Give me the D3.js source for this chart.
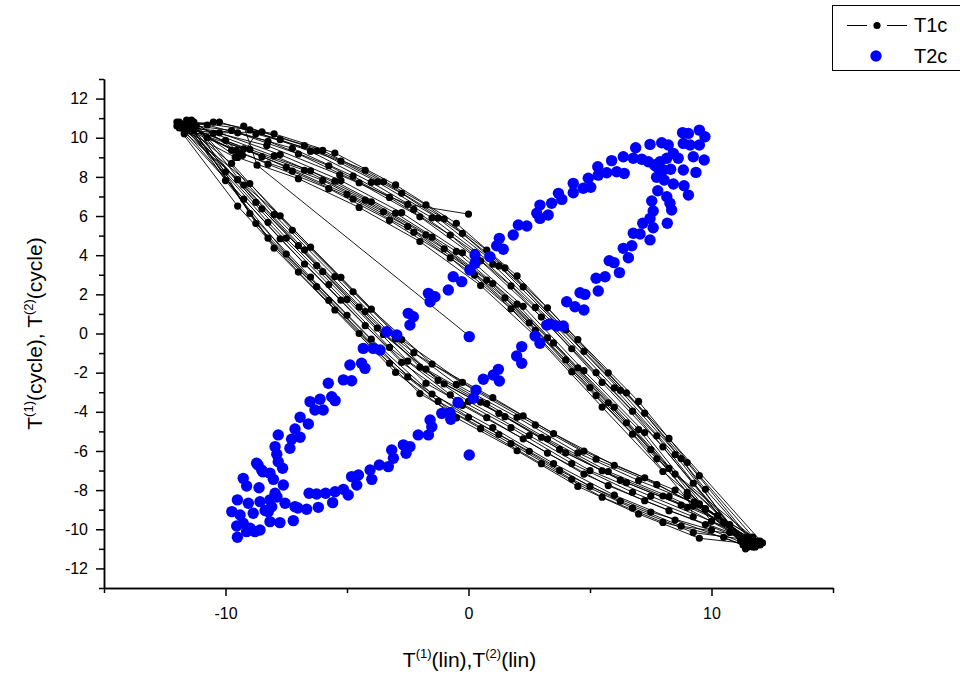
<!DOCTYPE html>
<html><head><meta charset="utf-8">
<script src="https://cdn.jsdelivr.net/npm/d3@7"></script>
<style>
html,body{margin:0;padding:0;background:#fff;}
svg{display:block;font-family:"Liberation Sans",Arial,sans-serif;}
</style></head>
<body>
<svg id="chart" width="960" height="676"></svg>
<script>
// ---- data ----
const xMajorTicks = [-10, 0, 10];
const xMinorTicks = [-15, -5, 5, 15];
const yMajorTicks = [-12, -10, -8, -6, -4, -2, 0, 2, 4, 6, 8, 10, 12];
const yMinorTicks = [-13, -11, -9, -7, -5, -3, -1, 1, 3, 5, 7, 9, 11, 13];
const seriesNames = ["T1c", "T2c"];

// T1c: trajectory, points in drawing order [x, y]
const t1c = [
[0.0,6.1],[-2.5,6.6],[-5.3,8.1],[-8.3,9.6],
[-11.8,10.7],[-10,8.26],[-7.5,4.87],[-5,1.74],[-2.5,-1.41],[0,-3.47],[2.5,-5.21],[5,-7.00],[7.5,-8.31],[10,-9.59],
[11.8,-10.7],[9.5,-8.70],[7,-4.91],[4.5,-1.75],[2,1.50],[-0.5,4.19],[-3,6.15],[-5.5,7.78],[-8,9.07],[-10.5,10.23],
[-11.6,10.9],[-9,6.13],[-6.5,2.88],[-4,-0.29],[-1.5,-3.09],[1,-4.81],[3.5,-6.64],[6,-8.26],[8.5,-9.53],
[11.5,-10.9],[8.5,-6.19],[6,-2.78],[3.5,0.51],[1,3.54],[-1.5,5.91],[-4,7.72],[-6.5,9.30],[-9,10.40],
[-11.3,10.8],[-8,6.07],[-5.5,2.91],[-3,-0.28],[-0.5,-2.60],[2,-4.28],[4.5,-6.10],[7,-7.51],[9.5,-8.75],
[12.0,-10.6],[10,-9.59],[7.5,-5.93],[5,-2.76],[2.5,0.55],[0,3.33],[-2.5,5.46],[-5,7.11],[-7.5,8.49],[-10,9.87],
[-9.55,9.35],[-12.0,10.6],[-9.5,6.51],[-7,3.14],[-4.5,0.00],[-2,-3.07],[0.5,-4.86],[3,-6.65],[5.5,-8.36],[8,-9.65],[10.5,-10.41],
[11.3,-10.8],[8,-5.79],[5.5,-2.50],[3,0.84],[0.5,3.71],[-2,5.96],[-4.5,7.70],[-7,9.17],[-9.5,10.25],
[-11.5,10.5],[-8.5,6.37],[-6,3.16],[-3.5,-0.05],[-1,-2.58],[1.5,-4.25],[4,-6.10],[6.5,-7.62],[9,-8.88],[9.3,-8.6],
[11.6,-10.5],[9,-6.59],[6.5,-3.03],[4,0.19],[1.5,3.35],[-1,5.86],[-3.5,7.75],[-6,9.35],[-8.5,10.3],
[-11.7,10.2],[-7.75,4.84],[-5.25,1.70],[-2.75,-1.48],[-0.25,-3.67],[2.25,-5.38],[4.75,-7.18],[7.25,-8.54],[9.75,-9.76],
[11.9,-10.8],[9.25,-8.82],[6.75,-5.14],[4.25,-1.95],[1.75,1.26],[-0.75,3.86],[-3.25,5.78],[-5.75,7.40],[-8.25,8.65],[-10.75,10.00],
[-9.4,9.2],[-11.9,10.8],[-9.75,8.69],[-7.25,5.27],[-4.75,2.13],[-2.25,-0.98],[0.25,-2.91],[2.75,-4.67],[5.25,-6.42],[7.75,-7.72],[10.25,-9.30],
[11.4,-11.0],[7.75,-5.23],[5.25,-2.00],[2.75,1.33],[0.25,4.15],[-2.25,6.34],[-4.75,8.04],[-7.25,9.46],[-9.75,10.37],
[-11.2,10.6],[-8.75,5.62],[-6.25,2.39],[-3.75,-0.80],[-1.25,-3.47],[1.25,-5.16],[3.75,-7.00],[6.25,-8.57],[8.75,-9.84],
[11.7,-10.4],[9.75,-8.95],[7.25,-5.06],[4.75,-1.90],[2.25,1.39],[-0.25,4.12],[-2.75,6.17],[-5.25,7.81],[-7.75,9.14],[-10.25,10.25],
[-11.6,10.4],[-8.25,5.68],[-5.75,2.50],[-3.25,-0.71],[-0.75,-3.13],[1.75,-4.81],[4.25,-6.64],[6.75,-8.11],[9.25,-9.36],[9.0,-8.3],
[11.2,-10.6],[8.75,-6.39],[6.25,-2.91],[3.75,0.35],[1.25,3.45],[-1.25,5.89],[-3.75,7.74],[-6.25,9.33],[-8.75,10.2],
[-9.3,9.1],[-11.4,10.9],[-9.25,7.58],[-6.75,4.27],[-4.25,1.12],[-1.75,-1.82],[0.75,-3.58],[3.25,-5.39],[5.75,-7.05],[8.25,-8.33],[10.75,-9.76],
[11.8,-10.9],[8.25,-6.89],[5.75,-3.54],[3.25,-0.22],[0.75,2.73],[-1.75,5.04],[-4.25,6.81],[-6.75,8.34],[-9.25,9.43],
[-11.8,10.5],[-9,7.66],[-6.5,4.41],[-4,1.24],[-1.5,-1.56],[1,-3.28],[3.5,-5.11],[6,-6.73],[8.5,-8.00],
[11.5,-10.7],[8,-7.05],[5.5,-3.76],[3,-0.42],[0.5,2.45],[-2,4.70],[-4.5,6.44],[-7,7.91],[-9.5,8.99],
[-11.5,10.7],[-8,4.36],[-5.5,1.20],[-3,-1.99],[-0.5,-4.31],[2,-5.99],[4.5,-7.81],[7,-9.22],[9.5,-10.46],
[12.0,-10.8],[9.5,-7.26],[7,-3.47],[4.5,-0.31],[2,2.94],[-0.5,5.63],[-3,7.59],[-5.5,9.22],[-8,10.2],[-10.5,10.8],
[-11.7,10.6],[-9.5,7.86],[-7,4.49],[-4.5,1.35],[-2,-1.72],[0.5,-3.51],[3,-5.30],[5.5,-7.01],[8,-8.30],[10.5,-9.66],
[11.6,-10.7],[9,-8.12],[6.5,-4.56],[4,-1.34],[1.5,1.82],[-1,4.33],[-3.5,6.22],[-6,7.82],[-8.5,9.03],
[-11.4,10.5],[-8.25,4.87],[-5.75,1.69],[-3.25,-1.52],[-0.75,-3.94],[1.75,-5.62],[4.25,-7.45],[6.75,-8.92],[9.25,-10.17],
[11.9,-10.6],[7.75,-6.40],[5.25,-3.17],[2.75,0.16],[0.25,2.98],[-2.25,5.17],[-4.75,6.87],[-7.25,8.29],[-9.75,9.36],
[-9.6,9.0],[-11.9,10.5],[-7.75,6.01],[-5.25,2.87],[-2.75,-0.31],[-0.25,-2.50],[2.25,-4.21],[4.75,-6.01],[7.25,-7.37],[9.75,-9.0],
[11.5,-10.4],[9.75,-7.96],[7.25,-4.07],[4.75,-0.91],[2.25,2.38],[-0.25,5.11],[-2.75,7.16],[-5.25,8.80],[-7.75,9.9],[-10.25,10.8],
[-11.6,10.7],[-10,7.81],[-7.5,4.06],[-5,0.93],[-2.5,-2.22],[0,-4.28],[2.5,-6.02],[5,-7.81],[7.5,-9.12],[10,-10.04],
[11.7,-10.9],[8.5,-7.18],[6,-3.77],[3.5,-0.48],[1,2.55],[-1.5,4.92],[-4,6.73],[-6.5,8.31],[-9,9.41],
[-11.3,10.4],[-8.75,6.70],[-6.25,3.47],[-3.75,0.28],[-1.25,-2.39],[1.25,-4.08],[3.75,-5.92],[6.25,-7.49],[8.75,-8.76],
[11.3,-10.5],[9.25,-7.65],[6.75,-3.97],[4.25,-0.78],[1.75,2.43],[-0.75,5.03],[-3.25,6.95],[-5.75,8.57],[-8.25,9.82],[-10.75,10.65],
[-12.0,10.8],[-9.25,6.86],[-6.75,3.55],[-4.25,0.40],[-1.75,-2.54],[0.75,-4.30],[3.25,-6.11],[5.75,-7.77],[8.25,-9.05],[10.75,-10.16],
[12.1,-10.7],[8.25,-5.36],[5.75,-2.01],[3.25,1.31],[0.75,4.26],[-1.75,6.57],[-4.25,8.34],[-6.75,9.6],[-9.25,10.6],
[-8.7,8.6],[0.0,-0.1]
];

// T2c: scatter points [x, y]
const t2c = [
[8.81,10.26],[9.05,10.22],[9.50,10.39],[9.73,10.05],[9.50,9.63],[8.84,9.71],[9.12,9.63],[7.95,9.74],[8.22,9.63],[7.47,9.66],
[6.88,9.49],[8.43,9.20],[8.63,8.95],[9.25,9.03],[9.70,8.86],[8.16,8.95],[7.88,8.77],[7.74,8.52],[8.02,8.35],[8.32,8.39],
[8.84,8.35],[9.36,8.23],[7.74,7.98],[8.05,7.84],[8.43,7.64],[8.87,7.55],[9.05,7.07],[7.79,7.29],[8.16,6.99],[7.54,6.77],
[8.29,6.65],[8.36,6.31],[7.60,6.26],[7.47,5.88],[7.17,5.63],[7.60,5.40],[8.18,5.63],[6.78,5.12],[7.06,5.08],[7.47,4.78],
[6.37,4.35],[6.72,4.48],[6.58,3.87],[5.79,3.72],[5.99,3.62],[6.21,3.11],[5.25,2.82],[5.62,2.90],[5.34,2.17],[4.59,2.08],
[4.79,2.00],[4.04,1.62],[4.38,1.37],[4.75,1.20],[3.35,0.49],[3.63,0.38],[3.90,0.38],[3.22,0.43],[2.74,-0.13],[2.94,-0.50],
[2.19,-0.67],[1.98,-1.15],[2.19,-1.52],[1.23,-1.83],[1.02,-2.12],[1.27,-2.43],[0.61,-2.34],[0.31,-2.89],[0.20,-3.31],[-0.43,-3.52],
[-0.76,-4.04],[-1.10,-4.08],[-0.73,-4.38],[-1.58,-4.42],[-1.51,-4.76],[-2.07,-5.18],[-1.65,-5.18],[-2.68,-5.69],[-2.41,-5.78],[-2.57,-6.12],
[-3.16,-5.95],[-3.09,-6.37],[-3.67,-6.72],[-3.30,-6.80],[-4.05,-6.97],[-3.98,-7.45],[-4.81,-7.31],[-4.53,-7.23],[-4.60,-7.74],[-5.15,-7.96],
[-4.95,-8.25],[-5.49,-8.08],[-5.88,-8.16],[-6.25,-8.20],[-6.56,-8.16],[-5.59,-8.64],[-6.18,-8.88],[-6.66,-8.98],[-7.14,-8.85],[-7.55,-8.67],
[6.37,9.03],[6.78,8.95],[7.13,8.90],[7.40,8.77],[7.65,8.61],[5.89,8.83],[5.32,8.52],[6.10,8.26],[6.41,8.18],[5.69,8.21],
[5.34,8.09],[4.93,7.93],[4.31,7.67],[4.72,7.42],[5.03,7.47],[4.31,7.19],[3.70,7.16],[3.84,6.85],[3.42,6.65],[2.94,6.56],
[2.81,6.14],[3.28,6.05],[2.94,5.88],[2.05,5.54],[2.40,5.49],[1.84,5.03],[1.27,4.86],[1.16,4.48],[1.43,4.30],[0.88,3.92],
[0.27,4.01],[0.27,3.59],[0.06,3.24],[-0.28,2.65],[-0.63,2.90],[-0.83,2.22],[-1.65,2.05],[-1.38,1.88],[-1.58,1.62],[-2.48,1.03],
[-2.27,0.86],[-2.41,0.43],[-2.95,-0.08],[-3.37,0.09],[-3.64,-0.84],[-3.92,-0.76],[-4.33,-0.76],[-4.88,-1.61],[-4.40,-1.52],[-4.26,-1.78],
[-5.77,-2.54],[-5.15,-2.37],[-4.81,-2.41],[-6.52,-3.48],[-6.11,-3.36],[-5.63,-3.23],[-5.49,-3.43],[-6.32,-3.91],[-5.98,-3.91],[-6.93,-4.28],
[-6.59,-4.62],[-7.14,-4.88],[-7.83,-5.18],[-6.93,-5.30],[-7.28,-5.40],[-7.35,-5.86],[-7.96,-5.78],[-7.89,-6.17],[-7.83,-6.55],[-7.65,-6.88],
[-8.72,-6.63],[-8.51,-6.97],[-9.27,-7.40],[-9.13,-7.79],[-8.62,-7.88],[-8.17,-7.14],[-8.03,-7.45],[-7.62,-7.74],[-7.96,-8.16],[-8.17,-8.50],
[-8.58,-8.59],[-9.51,-8.50],[-9.06,-8.67],[-9.74,-9.10],[-9.40,-9.27],[-8.86,-9.18],[-8.24,-9.10],[-8.10,-8.85],[-9.54,-9.83],[-9.27,-9.69],
[-8.99,-9.95],[-8.79,-10.12],[-8.58,-10.04],[-8.17,-9.61],[-7.76,-9.66],[-7.21,-9.56],[-9.51,-10.41],[-9.13,-10.12],[-7.88,-8.35],[-7.02,-8.91],
[-8.37,-9.04],[-8.46,-7.07],[-8.66,-6.72],
[0.03,-0.16],[0.03,-6.21]
];

// ---- layout ----
const svg = d3.select("#chart");
const mLeft = 104, mRight = 833, mTop = 79, mBottom = 588;
const x = d3.scaleLinear().domain([-15, 15]).range([mLeft, mRight]);
const y = d3.scaleLinear().domain([-13, 13]).range([mBottom, mTop]);
const font = '"Liberation Sans",Arial,sans-serif';
const fmt = d => String(d);

// lines
svg.append("path")
  .datum(t1c)
  .attr("d", d3.line().x(d => x(d[0])).y(d => y(d[1])))
  .attr("fill", "none").attr("stroke", "#000").attr("stroke-width", 0.9);

svg.append("g").selectAll("circle").data(t1c).join("circle")
  .attr("cx", d => x(d[0])).attr("cy", d => y(d[1])).attr("r", 3.6).attr("fill", "#000");

svg.append("g").selectAll("circle").data(t2c).join("circle")
  .attr("cx", d => x(d[0])).attr("cy", d => y(d[1])).attr("r", 5.7).attr("fill", "#0000FF");

// axes
function styleAxis(g) {
  g.selectAll("path.domain").attr("stroke", "#000").attr("stroke-width", 1.5);
  g.selectAll(".tick line").attr("stroke", "#000").attr("stroke-width", 1.5);
  g.selectAll(".tick text").attr("fill", "#000").style("font-family", font).style("font-size", "16px");
}
const gx = svg.append("g").attr("transform", `translate(0,${mBottom})`)
  .call(d3.axisBottom(x).tickValues(xMajorTicks).tickSize(8).tickSizeOuter(0).tickPadding(12).tickFormat(fmt));
styleAxis(gx);
const gxm = svg.append("g").attr("transform", `translate(0,${mBottom})`)
  .call(d3.axisBottom(x).tickValues(xMinorTicks).tickSize(5).tickSizeOuter(0).tickFormat(""));
styleAxis(gxm);
const gy = svg.append("g").attr("transform", `translate(${mLeft},0)`)
  .call(d3.axisLeft(y).tickValues(yMajorTicks).tickSize(8).tickSizeOuter(0).tickPadding(8).tickFormat(fmt));
styleAxis(gy);
const gym = svg.append("g").attr("transform", `translate(${mLeft},0)`)
  .call(d3.axisLeft(y).tickValues(yMinorTicks).tickSize(5).tickSizeOuter(0).tickFormat(""));
styleAxis(gym);

// axis titles
function titleWithSup(t, parts) {
  parts.forEach(p => {
    const ts = t.append("tspan").text(p.s);
    if (p.sup) ts.attr("font-size", 13).attr("dy", -9);
    else if (p.after) ts.attr("dy", 9);
  });
}
const xt = svg.append("text").attr("x", (mLeft + mRight) / 2 + 1).attr("y", 667)
  .attr("text-anchor", "middle").style("font-family", font).style("font-size", "21px").attr("fill", "#000");
titleWithSup(xt, [{s:"T"},{s:"(1)",sup:true},{s:"(lin),T",after:true},{s:"(2)",sup:true},{s:"(lin)",after:true}]);

const yt = svg.append("text").attr("transform", `translate(42,${(mTop + mBottom) / 2}) rotate(-90)`)
  .attr("text-anchor", "middle").style("font-family", font).style("font-size", "21px").attr("fill", "#000");
titleWithSup(yt, [{s:"T"},{s:"(1)",sup:true},{s:"(cycle), T",after:true},{s:"(2)",sup:true},{s:"(cycle)",after:true}]);

// legend
const lg = svg.append("g");
lg.append("rect").attr("x", 832.5).attr("y", 5.5).attr("width", 160).attr("height", 65)
  .attr("fill", "#fff").attr("stroke", "#000").attr("stroke-width", 1);
lg.append("line").attr("x1", 847).attr("x2", 867).attr("y1", 25.5).attr("y2", 25.5).attr("stroke", "#000").attr("stroke-width", 1);
lg.append("line").attr("x1", 887).attr("x2", 907).attr("y1", 25.5).attr("y2", 25.5).attr("stroke", "#000").attr("stroke-width", 1);
lg.append("circle").attr("cx", 877).attr("cy", 25.5).attr("r", 3.6).attr("fill", "#000");
lg.append("circle").attr("cx", 876).attr("cy", 56).attr("r", 5.7).attr("fill", "#0000FF");
lg.selectAll("text.lt").data(seriesNames).join("text").attr("class", "lt")
  .attr("x", 914).attr("y", (d, i) => 32 + i * 31).text(d => d)
  .style("font-family", font).style("font-size", "20px").attr("fill", "#000");
</script>
</body></html>
